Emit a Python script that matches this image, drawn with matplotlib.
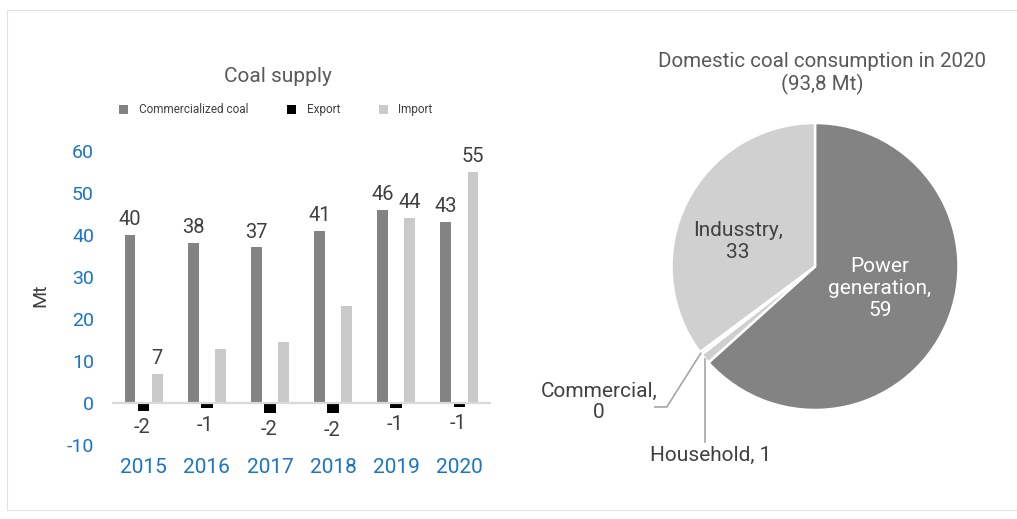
import numpy as np
import matplotlib
matplotlib.use("Agg")
import matplotlib.pyplot as plt
from matplotlib.patches import Rectangle

plt.rcParams["font.family"] = ["Roboto", "DejaVu Sans"]
plt.rcParams["axes.unicode_minus"] = False

# ---- data -------------------------------------------------------------
years = ["2015", "2016", "2017", "2018", "2019", "2020"]
commercialized = [40, 38, 37, 41, 46, 43]
export = [-1.7, -1.2, -2.3, -2.4, -1.1, -0.9]
imports = [7, 13, 14.5, 23, 44, 55]
import_labelled = [True, False, False, False, True, True]

pie_labels = ["Power\ngeneration", "Household", "Commercial", "Indusstry"]
pie_values = [59.4, 1.1, 0.3, 33.0]
total_consumption = "93,8"

# ---- styling ------------------------------------------------------------
W, H = 1017, 519
C_COMM = "#838383"
C_EXP = "#000000"
C_IMP = "#cacaca"
C_TEXT = "#404040"
C_TITLE = "#595959"
C_BLUE = "#1a74c9"

fig = plt.figure(figsize=(W / 100, H / 100), dpi=100)
fig.patch.set_facecolor("white")


def fx(px):
    return px / W


def fy(py):
    return 1 - py / H


# light frame around the graphic
fig.patches.append(Rectangle((fx(7), fy(510)), 1.0, fy(10) - fy(510),
                             transform=fig.transFigure, fill=False,
                             edgecolor="#e2e2e2", lw=0.8))

# ---- bar chart ----------------------------------------------------------
ax = fig.add_axes([fx(112), fy(445.5), fx(491) - fx(112), fy(150.5) - fy(445.5)])
x = np.arange(len(years))
bw = 0.17
off = 0.215
b1 = ax.bar(x - off, commercialized, bw, color=C_COMM, label="Commercialized coal", zorder=2)
b2 = ax.bar(x, export, bw + 0.015, color=C_EXP, label="Export", zorder=2)
b3 = ax.bar(x + off, imports, bw, color=C_IMP, label="Import", zorder=2)
ax.axhline(0, color="#d9d9d9", lw=1.6, zorder=3)

for xi, v in zip(x - off, commercialized):
    ax.annotate(f"{v:.0f}", (xi, v), xytext=(0, 11), textcoords="offset points",
                ha="center", va="center", fontsize=14.5, color=C_TEXT)
for xi, v in zip(x, export):
    ax.annotate(f"{v:.0f}", (xi, v), xytext=(-1, -12), textcoords="offset points",
                ha="center", va="center", fontsize=14.5, color=C_TEXT)
for xi, v, show in zip(x + off, imports, import_labelled):
    if show:
        ax.annotate(f"{v:.0f}", (xi, v), xytext=(0, 11), textcoords="offset points",
                    ha="center", va="center", fontsize=14.5, color=C_TEXT)

ax.set_xlim(-0.5, len(years) - 0.5)
ax.set_ylim(-10, 60)
ax.set_yticks(np.arange(-10, 61, 10))
ax.set_xticks(x)
ax.set_xticklabels(years)
ax.tick_params(axis="both", length=0, labelcolor=C_BLUE)
ax.tick_params(axis="y", labelsize=14, pad=13)
ax.tick_params(axis="x", labelsize=15, pad=9)
for s in ax.spines.values():
    s.set_visible(False)

fig.text(fx(40), fy(295), "Mt", rotation=90, ha="center", va="center",
         fontsize=14, color=C_TEXT)
fig.text(fx(278), fy(77), "Coal supply", ha="center", va="center",
         fontsize=15, color=C_TITLE)
fig.legend(handles=[b1, b2, b3], loc="center", bbox_to_anchor=(fx(276), fy(110)),
           ncol=3, frameon=False, fontsize=8.5, handlelength=0.75, handleheight=0.75,
           handletextpad=0.9, columnspacing=3.3, labelcolor=C_TEXT)

# ---- pie chart ----------------------------------------------------------
cx, cy, r = 815, 266.5, 143.5
axp = fig.add_axes([fx(cx - r), fy(cy + r), fx(2 * r), fy(0) - fy(2 * r)])
wedges, _ = axp.pie(pie_values, colors=[C_COMM, "#cfcfcf", "#bdbdbd", "#d0d0d0"],
                    startangle=90, counterclock=False, radius=1,
                    wedgeprops=dict(edgecolor="white", linewidth=1.8))
axp.set_xlim(-1, 1)
axp.set_ylim(-1, 1)
axp.set_aspect("equal")
axp.axis("off")

axp.text(-0.537, 0.171, f"{pie_labels[3]},\n{pie_values[3]:.0f}", ha="center",
         va="center", fontsize=15, color=C_TEXT, linespacing=1.2)
axp.text(0.453, -0.150, f"{pie_labels[0]},\n{pie_values[0]:.0f}", ha="center",
         va="center", fontsize=15, color="white", linespacing=1.2)

# leader lines for the two small slices
tot = sum(pie_values)
start = pie_values[0] / tot * 360
mid_house = np.radians(start + pie_values[1] / tot * 180)
mid_comm = np.radians(start + (pie_values[1] + pie_values[2] / 2) / tot * 360)
hx, hy = np.sin(mid_house), np.cos(mid_house)
kx, ky = np.sin(mid_comm), np.cos(mid_comm)
lc = "#a6a6a6"
axp.plot([hx, hx], [hy, -1.223], color=lc, lw=1.2, clip_on=False)
axp.plot([kx, -1.033, -1.115], [ky, -0.979, -0.979], color=lc, lw=1.2, clip_on=False)
axp.text(-0.725, -1.314, f"{pie_labels[1]}, {pie_values[1]:.0f}", ha="center",
         va="center", fontsize=15, color=C_TEXT)
axp.text(-1.505, -0.944, f"{pie_labels[2]},\n{pie_values[2]:.0f}", ha="center",
         va="center", fontsize=15, color=C_TEXT, linespacing=1.2)

fig.text(fx(822), fy(73.5), f"Domestic coal consumption in 2020\n({total_consumption} Mt)",
         ha="center", va="center", fontsize=14.8, color=C_TITLE, linespacing=1.2)

fig.savefig("out.png", dpi=100, facecolor="white")
